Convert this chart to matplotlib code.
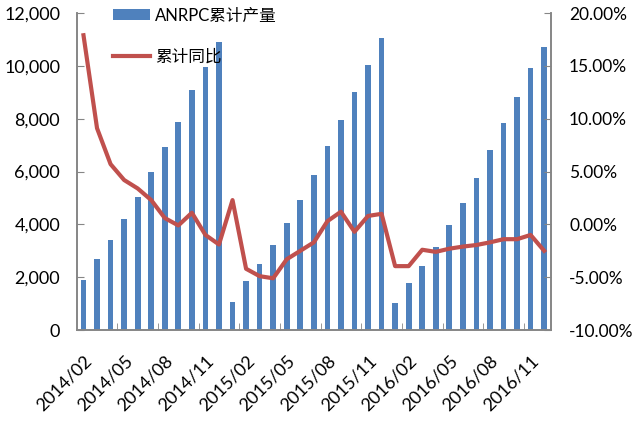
import matplotlib
matplotlib.use("Agg")
import matplotlib.pyplot as plt
import numpy as np
from matplotlib.ticker import FuncFormatter

plt.rcParams['font.family'] = ['Lato', 'Noto Sans CJK SC', 'DejaVu Sans']

months = ([f"2014/{m:02d}" for m in range(2, 13)] +
          [f"2015/{m:02d}" for m in range(1, 13)] +
          [f"2016/{m:02d}" for m in range(1, 13)])

production = [1900, 2680, 3400, 4210, 5040, 5990, 6940, 7890, 9080, 9970, 10910,
              1070, 1855, 2500, 3220, 4040, 4920, 5880, 6960, 7950, 9020, 10030, 11040,
              1010, 1790, 2435, 3150, 3970, 4820, 5765, 6810, 7850, 8830, 9905, 10725]

yoy = [17.9, 9.1, 5.7, 4.2, 3.4, 2.3, 0.6, -0.1, 1.1, -1.0, -1.9,
       2.3, -4.2, -4.9, -5.1, -3.3, -2.5, -1.7, 0.3, 1.2, -0.7, 0.8, 1.0,
       -3.95, -3.95, -2.4, -2.6, -2.3, -2.1, -1.95, -1.7, -1.4, -1.4, -1.0, -2.5]

bar_color = '#4F81BD'
line_color = '#C0504D'
axis_gray = '#868686'

fig = plt.figure(figsize=(6.34, 4.21), dpi=100)
ax = fig.add_axes([0.121, 0.216, 0.748, 0.753])
x = np.arange(len(months))

bars = ax.bar(x, production, width=0.42, color=bar_color, zorder=2)
ax.set_xlim(-0.5, len(months) - 0.5)
ax.set_ylim(0, 12000)
ax.set_yticks(np.arange(0, 12001, 2000))
ax.yaxis.set_major_formatter(FuncFormatter(lambda v, p: f"{int(v):,}"))

ax2 = ax.twinx()
line, = ax2.plot(x, yoy, color=line_color, linewidth=3, zorder=3)
ax2.set_ylim(-10, 20)
ax2.set_yticks(np.arange(-10, 20.1, 5))
ax2.yaxis.set_major_formatter(FuncFormatter(lambda v, p: f"{v:.2f}%"))

# category labels every 3 months, tick marks on the boundaries
ax.set_xticks(x[::3])
ax.set_xticklabels(months[::3], rotation=45, ha='right', rotation_mode='anchor', fontsize=13)
ax.tick_params(axis='x', length=0, pad=16)
ax.set_xticks(np.arange(2.5, len(months) - 1, 3), minor=True)
ax.tick_params(axis='x', which='minor', direction='in', length=5, color=axis_gray)

ax.tick_params(axis='y', direction='in', length=5, color=axis_gray, labelsize=13, pad=12)
ax2.tick_params(axis='y', direction='in', length=5, color=axis_gray, labelsize=12.5, pad=13)

for a in (ax, ax2):
    a.spines['top'].set_visible(False)
    for s in ('left', 'right', 'bottom'):
        a.spines[s].set_color(axis_gray)
        a.spines[s].set_linewidth(1.2)

ax2.legend([bars, line], ['ANRPC累计产量', '累计同比'], loc='upper left',
           bbox_to_anchor=(0.045, 1.065), frameon=False, fontsize=12,
           handlelength=2.2, handletextpad=0.3, labelspacing=1.5)

fig.savefig('out.png', dpi=100)
